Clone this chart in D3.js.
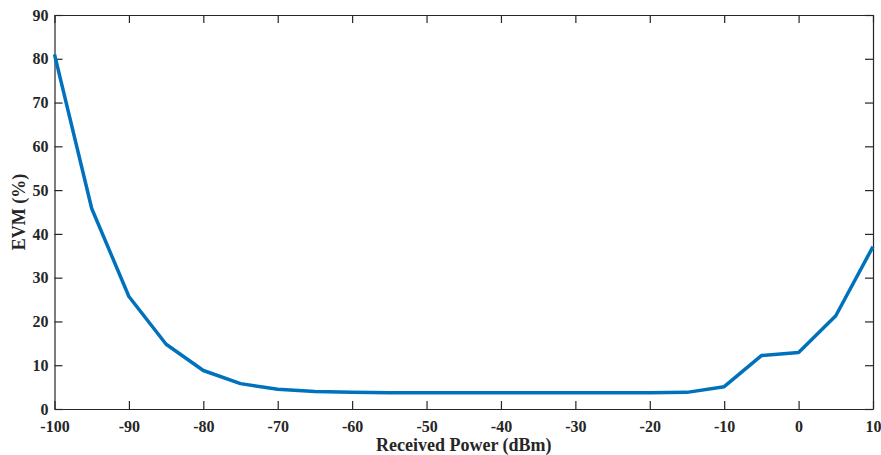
<!DOCTYPE html>
<html>
<head>
<meta charset="utf-8">
<script src="https://cdn.jsdelivr.net/npm/d3@7"></script>
<style>
  body { margin: 0; background: #fff; }
  svg text { font-family: "Liberation Serif", "Times New Roman", serif; font-weight: bold; fill: #262626; }
</style>
</head>
<body>
<div id="chart"></div>
<script>
const width = 881,
  height = 455,
  margin = { top: 15, bottom: 46, left: 54.5, right: 8 };

// received power (dBm)
const power = [-100, -95, -90, -85, -80, -75, -70, -65, -60, -55, -50, -45, -40, -35, -30, -25, -20, -15, -10, -5, 0, 5, 10];
// EVM (%)
const evm = [81, 45.8, 25.7, 14.8, 8.8, 5.8, 4.5, 4.0, 3.8, 3.7, 3.7, 3.7, 3.7, 3.7, 3.7, 3.7, 3.7, 3.8, 5.1, 12.2, 12.9, 21.3, 37.1];

const xTicks = [-100, -90, -80, -70, -60, -50, -40, -30, -20, -10, 0, 10];
const yTicks = [0, 10, 20, 30, 40, 50, 60, 70, 80, 90];

const data = power.map((p, i) => ({ power: p, evm: evm[i] }));

const xScale = d3.scaleLinear()
  .domain([-100, 10])
  .range([margin.left, width - margin.right]);

const yScale = d3.scaleLinear()
  .domain([0, 90])
  .range([height - margin.bottom, margin.top]);

const svg = d3.select("#chart")
  .append("svg")
  .attr("width", width)
  .attr("height", height);

const tickLen = 8;
const fmt = d => String(d); // plain hyphen minus like matlab

// bottom axis (ticks inward)
svg.append("g")
  .attr("transform", `translate(0,${height - margin.bottom})`)
  .call(d3.axisBottom(xScale).tickValues(xTicks).tickFormat(fmt).tickSizeInner(-tickLen).tickSizeOuter(0).tickPadding(12));

// top axis, ticks only
svg.append("g")
  .attr("transform", `translate(0,${margin.top})`)
  .call(d3.axisTop(xScale).tickValues(xTicks).tickSizeInner(-tickLen).tickSizeOuter(0).tickFormat(""));

// left axis
svg.append("g")
  .attr("transform", `translate(${margin.left},0)`)
  .call(d3.axisLeft(yScale).tickValues(yTicks).tickFormat(fmt).tickSizeInner(-tickLen).tickSizeOuter(0).tickPadding(6));

// right axis, ticks only
svg.append("g")
  .attr("transform", `translate(${width - margin.right},0)`)
  .call(d3.axisRight(yScale).tickValues(yTicks).tickSizeInner(-tickLen).tickSizeOuter(0).tickFormat(""));

svg.selectAll("g").attr("font-family", null).attr("font-size", null);

svg.selectAll(".domain, .tick line")
  .attr("stroke", "#262626")
  .attr("stroke-width", 1.2);

svg.selectAll(".tick text")
  .style("font-size", "16px")
  .attr("fill", "#262626");

// the line
const line = d3.line()
  .x(d => xScale(d.power))
  .y(d => yScale(d.evm));

svg.append("path")
  .datum(data)
  .attr("fill", "none")
  .attr("stroke", "#0072BD")
  .attr("stroke-width", 3.5)
  .attr("stroke-linejoin", "round")
  .attr("d", line);

// axis labels
svg.append("text")
  .attr("x", (margin.left + width - margin.right) / 2)
  .attr("y", 451)
  .attr("text-anchor", "middle")
  .style("font-size", "18px")
  .text("Received Power (dBm)");

svg.append("text")
  .attr("transform", `translate(25,${(margin.top + height - margin.bottom) / 2}) rotate(-90)`)
  .attr("text-anchor", "middle")
  .style("font-size", "18px")
  .text("EVM (%)");
</script>
</body>
</html>
